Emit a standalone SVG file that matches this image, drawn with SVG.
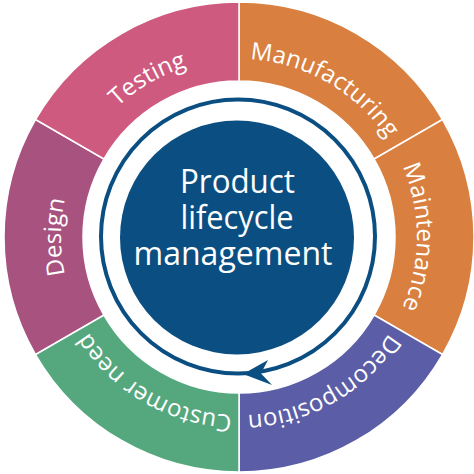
<svg xmlns="http://www.w3.org/2000/svg" xmlns:xlink="http://www.w3.org/1999/xlink" width="474" height="474" viewBox="0 0 474 474">
<style>
.seg{stroke:#ffffff;stroke-width:1.5}
.lbl{font-family:"Open Sans","Liberation Sans",sans-serif;font-size:24px;fill:#ffffff;text-anchor:middle}
.ctr{font-family:"Open Sans","Liberation Sans",sans-serif;font-size:33px;fill:#ffffff;text-anchor:middle}
</style>
<defs>
<path id="tp" d="M 239,59 A 178 178 0 1 1 239,415 A 178 178 0 1 1 239,59"/>
</defs>
<rect width="474" height="474" fill="#ffffff"/>
<g id="manufacturing">
<path class="seg" fill="#d98040" d="M 239,2 A 235 235 0 0 1 442.52,119.5 L 374.10,159 A 156 156 0 0 0 239,81 Z"/>
<text class="lbl"><textPath xlink:href="#tp" href="#tp" startOffset="8.333%">Manufacturing</textPath></text>
</g>
<g id="maintenance">
<path class="seg" fill="#d98040" d="M 442.52,119.5 A 235 235 0 0 1 442.52,354.5 L 374.10,315 A 156 156 0 0 0 374.10,159 Z"/>
<text class="lbl"><textPath xlink:href="#tp" href="#tp" startOffset="25%">Maintenance</textPath></text>
</g>
<g id="decomposition">
<path class="seg" fill="#5b5ea6" d="M 442.52,354.5 A 235 235 0 0 1 239,472 L 239,393 A 156 156 0 0 0 374.10,315 Z"/>
<text class="lbl"><textPath xlink:href="#tp" href="#tp" startOffset="41.667%">Decomposition</textPath></text>
</g>
<g id="customer-need">
<path class="seg" fill="#55a87e" d="M 239,472 A 235 235 0 0 1 35.48,354.5 L 103.90,315 A 156 156 0 0 0 239,393 Z"/>
<text class="lbl"><textPath xlink:href="#tp" href="#tp" startOffset="58.333%">Customer need</textPath></text>
</g>
<g id="design">
<path class="seg" fill="#a85280" d="M 35.48,354.5 A 235 235 0 0 1 35.48,119.5 L 103.90,159 A 156 156 0 0 0 103.90,315 Z"/>
<text class="lbl"><textPath xlink:href="#tp" href="#tp" startOffset="75%">Design</textPath></text>
</g>
<g id="testing">
<path class="seg" fill="#cf5a80" d="M 35.48,119.5 A 235 235 0 0 1 239,2 L 239,81 A 156 156 0 0 0 103.90,159 Z"/>
<text class="lbl"><textPath xlink:href="#tp" href="#tp" startOffset="91.667%">Testing</textPath></text>
</g>
<g id="connectors">
<circle cx="238" cy="236.5" r="137" fill="none" stroke="#0b4f82" stroke-width="4"/>
<polygon points="243,374 268,360 261,373.5 272,385" fill="#0b4f82"/>
</g>
<g id="center">
<circle cx="237" cy="237.5" r="117" fill="#0b4f82"/>
<text class="ctr" x="237.5" y="193" textLength="115" lengthAdjust="spacingAndGlyphs">Product</text>
<text class="ctr" x="237" y="229" textLength="113" lengthAdjust="spacingAndGlyphs">lifecycle</text>
<text class="ctr" x="233" y="265" textLength="199" lengthAdjust="spacingAndGlyphs">management</text>
</g>
</svg>
